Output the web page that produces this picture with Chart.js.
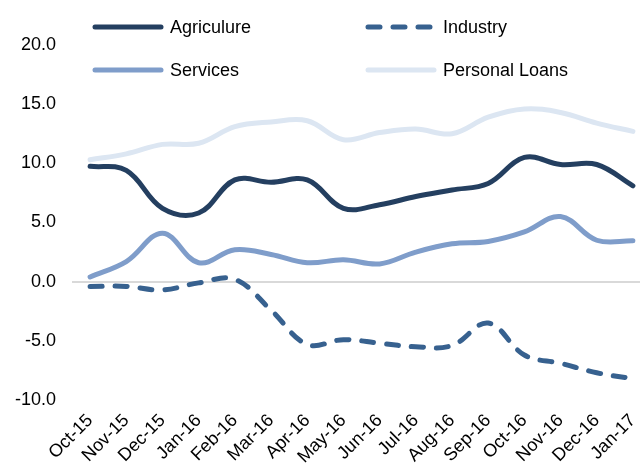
<!DOCTYPE html>
<html>
<head>
<meta charset="utf-8">
<script src="https://cdn.jsdelivr.net/npm/chart.js@4/dist/chart.umd.min.js"></script>
<style>
  html, body { margin: 0; padding: 0; width: 640px; height: 466px; overflow: hidden; background: #fff; }
  #wrap { position: relative; width: 660px; height: 466px; }
  #c { position: absolute; left: 0; top: 0; }
  .leg { position: absolute; font-family: "Liberation Sans", Arial, sans-serif; font-size: 18px; color: #000; line-height: 20px; white-space: nowrap; }
  .leg svg { position: absolute; left: 0; top: 0; }
  .leg span { position: absolute; left: 78px; top: 0; }
</style>
</head>
<body>
<div id="wrap">
  <canvas id="c" width="660" height="466"></canvas>
  <div id="legend"></div>
</div>
<script>
const categories = ["Oct-15","Nov-15","Dec-15","Jan-16","Feb-16","Mar-16","Apr-16","May-16","Jun-16","Jul-16","Aug-16","Sep-16","Oct-16","Nov-16","Dec-16","Jan-17"];
const agriculture = [9.75, 9.4, 6.2, 5.8, 8.6, 8.4, 8.6, 6.2, 6.5, 7.2, 7.75, 8.3, 10.5, 9.9, 9.9, 8.1];
const industry = [-0.4, -0.4, -0.7, -0.1, 0.2, -2.4, -5.3, -4.9, -5.2, -5.5, -5.4, -3.5, -6.2, -6.9, -7.7, -8.2];
const services = [0.4, 1.7, 4.1, 1.6, 2.7, 2.3, 1.6, 1.85, 1.5, 2.5, 3.2, 3.4, 4.2, 5.5, 3.5, 3.45];
const personalLoans = [10.3, 10.8, 11.6, 11.7, 13.1, 13.5, 13.6, 12.0, 12.6, 12.9, 12.5, 13.9, 14.6, 14.3, 13.4, 12.7];
const seriesNames = ["Agriculure", "Industry", "Services", "Personal Loans"];
const yTicks = [-10, -5, 0, 5, 10, 15, 20];

const colors = ["#243F60", "#37618F", "#7F9DCA", "#DCE6F2"];
const dashes = [[], [12, 13], [], []];
const FONT = "'Liberation Sans', Arial, sans-serif";

const seriesData = [agriculture, industry, services, personalLoans];
const datasets = seriesData.map((d, i) => ({
  label: seriesNames[i],
  data: d,
  borderColor: colors[i],
  backgroundColor: colors[i],
  borderWidth: 5,
  borderDash: dashes[i],
  borderCapStyle: 'round',
  borderJoinStyle: 'round',
  pointRadius: 0,
  pointHoverRadius: 0,
  tension: 0.38,
  fill: false
}));

new Chart(document.getElementById('c'), {
  type: 'line',
  data: { labels: categories, datasets: datasets },
  options: {
    responsive: false,
    animation: false,
    events: [],
    layout: { padding: { top: 45, right: 9, left: 0, bottom: 0 } },
    plugins: { legend: { display: false }, tooltip: { enabled: false } },
    scales: {
      x: {
        offset: true,
        grid: { display: false, drawTicks: false },
        border: { display: false },
        ticks: {
          autoSkip: false, minRotation: 45, maxRotation: 45, padding: 10,
          color: '#000', font: { family: FONT, size: 18 }
        },
        afterFit: s => { s.height = 66; }
      },
      y: {
        min: -10, max: 20,
        afterBuildTicks: s => { s.ticks = yTicks.map(v => ({ value: v })); },
        grid: {
          drawTicks: false,
          color: ctx => (ctx.tick && ctx.tick.value === 0) ? '#D9D9D9' : 'rgba(0,0,0,0)',
          lineWidth: 2
        },
        border: { display: false },
        ticks: {
          padding: 16, color: '#000', font: { family: FONT, size: 18 },
          callback: v => Number(v).toFixed(1)
        },
        afterFit: s => { s.width = 72; }
      }
    }
  }
});

// HTML legend laid out as in the reference (2 x 2 grid)
const legendPos = [[92, 17], [365, 17], [92, 60], [365, 60]];
const legend = document.getElementById('legend');
seriesNames.forEach((name, i) => {
  const item = document.createElement('div');
  item.className = 'leg';
  item.style.left = legendPos[i][0] + 'px';
  item.style.top = legendPos[i][1] + 'px';
  const dash = dashes[i].length ? `stroke-dasharray="${dashes[i].join(' ')}"` : '';
  item.innerHTML = `<svg width="76" height="20"><line x1="3" y1="10" x2="69" y2="10" stroke="${colors[i]}" stroke-width="5" stroke-linecap="round" ${dash}/></svg><span>${name}</span>`;
  legend.appendChild(item);
});
</script>
</body>
</html>
